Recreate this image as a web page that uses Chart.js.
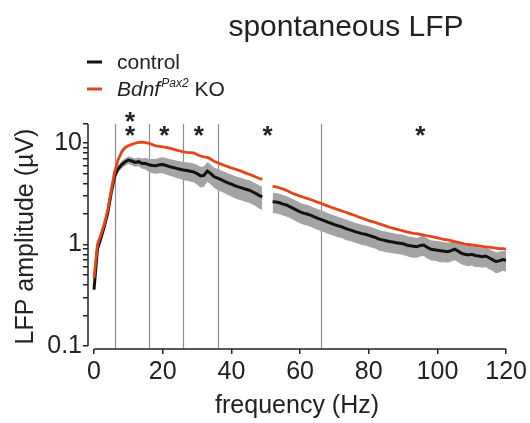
<!DOCTYPE html>
<html>
<head>
<meta charset="utf-8">
<script src="https://cdn.jsdelivr.net/npm/chart.js@4.4.1/dist/chart.umd.min.js"></script>
<style>
  html, body { margin: 0; padding: 0; background: #fff; }
  #wrap { width: 530px; height: 423px; }
</style>
</head>
<body>
<div id="wrap"><canvas id="lfpChart" width="530" height="423"></canvas></div>
<script>
// frequency bins (Hz), 1 Hz steps; 50-51 Hz removed (line noise)
const freqs = Array.from({ length: 121 }, (_, i) => i);

const controlMean = [
  0.36, 0.9, 1.15, 1.5, 2.05, 3.2, 4.7, 5.55, 6.1, 6.5,
  6.8, 6.65, 6.45, 6.55, 6.3, 6.3, 6.1, 6.0, 5.98, 6.1,
  6.15, 6.0, 5.85, 5.75, 5.63, 5.52, 5.42, 5.35, 5.28, 5.2,
  5.0, 4.75, 4.8, 5.3, 5.0, 4.65, 4.5, 4.35, 4.2, 4.05,
  3.93, 3.8, 3.7, 3.62, 3.52, 3.45, 3.33, 3.2, 3.05, 2.95,
  null, null, 2.64, 2.62, 2.58, 2.5, 2.45, 2.36, 2.27, 2.18,
  2.1, 2.04, 2.0, 1.95, 1.88, 1.82, 1.77, 1.72, 1.66, 1.62,
  1.57, 1.53, 1.5, 1.45, 1.41, 1.38, 1.34, 1.31, 1.28, 1.26,
  1.23, 1.2, 1.17, 1.13, 1.11, 1.09, 1.07, 1.06, 1.04, 1.03,
  1.02, 0.99, 0.97, 0.96, 0.95, 0.98, 0.99, 0.94, 0.9, 0.89,
  0.88, 0.87, 0.86, 0.85, 0.87, 0.9, 0.86, 0.82, 0.8, 0.79,
  0.8, 0.78, 0.77, 0.76, 0.77, 0.74, 0.71, 0.68, 0.69, 0.71,
  0.7
];

const controlSem = [
  0.02, 0.05, 0.08, 0.1, 0.15, 0.25, 0.35, 0.45, 0.5, 0.55,
  0.6, 0.6, 0.6, 0.65, 0.72, 0.8, 0.88, 0.95, 1.0, 1.05,
  1.1, 1.1, 1.1, 1.1, 1.1, 1.1, 1.1, 1.1, 1.1, 1.1,
  1.1, 1.1, 1.1, 1.15, 1.1, 1.05, 1.05, 1.02, 1.0, 0.98,
  0.96, 0.94, 0.92, 0.9, 0.88, 0.86, 0.84, 0.81, 0.78, 0.76,
  null, null, 0.6, 0.6, 0.59, 0.57, 0.56, 0.54, 0.52, 0.5,
  0.48, 0.47, 0.46, 0.45, 0.43, 0.42, 0.41, 0.4, 0.38, 0.37,
  0.36, 0.35, 0.34, 0.33, 0.32, 0.31, 0.3, 0.29, 0.29, 0.28,
  0.28, 0.27, 0.26, 0.26, 0.25, 0.25, 0.24, 0.24, 0.23, 0.23,
  0.23, 0.22, 0.22, 0.22, 0.21, 0.22, 0.22, 0.21, 0.2, 0.2,
  0.2, 0.2, 0.19, 0.19, 0.19, 0.2, 0.19, 0.18, 0.18, 0.18,
  0.18, 0.18, 0.17, 0.17, 0.17, 0.17, 0.16, 0.16, 0.16, 0.16,
  0.16
];

const koMean = [
  0.47, 1.0, 1.25, 1.6, 2.2, 3.4, 5.2, 6.8, 8.1, 9.0,
  9.4, 9.7, 9.95, 10.15, 10.2, 10.1, 9.95, 9.65, 9.35, 9.25,
  9.15, 9.05, 8.9, 8.7, 8.53, 8.35, 8.2, 8.08, 8.05, 8.0,
  7.7, 7.45, 7.3, 7.22, 6.95, 6.6, 6.4, 6.2, 6.0, 5.85,
  5.68, 5.55, 5.4, 5.25, 5.08, 4.95, 4.8, 4.65, 4.5, 4.38,
  null, null, 3.75, 3.7, 3.62, 3.52, 3.42, 3.3, 3.17, 3.08,
  3.0, 2.92, 2.85, 2.78, 2.7, 2.62, 2.55, 2.47, 2.4, 2.33,
  2.27, 2.21, 2.15, 2.09, 2.04, 1.98, 1.93, 1.87, 1.82, 1.77,
  1.72, 1.68, 1.64, 1.6, 1.56, 1.52, 1.48, 1.45, 1.42, 1.39,
  1.36, 1.33, 1.31, 1.29, 1.28, 1.26, 1.24, 1.22, 1.2, 1.18,
  1.16, 1.14, 1.12, 1.11, 1.09, 1.07, 1.05, 1.03, 1.01, 1.0,
  0.99, 0.98, 0.97, 0.96, 0.95, 0.94, 0.93, 0.92, 0.91, 0.91,
  0.9
];

// frequency band borders and significance marks
const bandEdges = [6, 16, 26, 36, 66];
const starFreqs = [10.5, 10.5, 20.5, 30.5, 50.5, 95];
const starLevels = [18.2, 13.2, 13.2, 13.2, 13.2, 13.2];

const xTicks = [0, 20, 40, 60, 80, 100, 120];
const yTicks = [0.1, 0.2, 0.3, 0.4, 0.5, 0.6, 0.7, 0.8, 0.9,
  1, 2, 3, 4, 5, 6, 7, 8, 9, 10, 15.4];
const yTickLabels = [0.1, 1, 10];

const xMin = -1.75;
const yMin = 0.0934;
const yMax = 15.4;

const FONT = '"Liberation Sans", Arial, Helvetica, sans-serif';
const INK = '#222';
const RED = '#e4461c';

Chart.defaults.font.family = FONT;
Chart.defaults.color = INK;

function toPoints(arr) {
  return freqs.map((f, i) => ({ x: f, y: arr[i] }));
}

const controlUpper = controlMean.map((m, i) => m === null ? null : m + controlSem[i]);
const controlLower = controlMean.map((m, i) => m === null ? null : m - controlSem[i]);

const overlayPlugin = {
  id: 'overlay',
  beforeDatasetsDraw(chart) {
    const { ctx, chartArea, scales } = chart;
    ctx.save();
    ctx.strokeStyle = '#8e8e8e';
    ctx.lineWidth = 1.2;
    bandEdges.forEach(f => {
      const px = Math.round(scales.x.getPixelForValue(f)) + 0.5;
      ctx.beginPath();
      ctx.moveTo(px, chartArea.top);
      ctx.lineTo(px, chartArea.bottom);
      ctx.stroke();
    });
    ctx.restore();
  },
  afterDraw(chart) {
    const { ctx, chartArea, scales } = chart;
    ctx.save();

    // title
    ctx.fillStyle = INK;
    ctx.font = '30px ' + FONT;
    ctx.textAlign = 'center';
    ctx.textBaseline = 'alphabetic';
    ctx.fillText('spontaneous LFP', 346, 36);

    // detached axis lines
    ctx.strokeStyle = INK;
    ctx.lineWidth = 1.5;
    ctx.beginPath();
    ctx.moveTo(chartArea.left, scales.y.getPixelForValue(yTickLabels[0]));
    ctx.lineTo(chartArea.left, scales.y.getPixelForValue(yMax));
    ctx.moveTo(scales.x.getPixelForValue(xTicks[0]), chartArea.bottom);
    ctx.lineTo(scales.x.getPixelForValue(xTicks[xTicks.length - 1]), chartArea.bottom);
    ctx.stroke();

    // significance stars
    ctx.font = 'bold 26px ' + FONT;
    const m = ctx.measureText('*');
    const shift = (m.actualBoundingBoxAscent - m.actualBoundingBoxDescent) / 2;
    starFreqs.forEach((f, i) => {
      const px = scales.x.getPixelForValue(f);
      const py = scales.y.getPixelForValue(starLevels[i]);
      ctx.fillText('*', px, py + shift);
    });

    // legend
    ctx.textAlign = 'left';
    ctx.lineWidth = 3;
    ctx.strokeStyle = '#111';
    ctx.beginPath();
    ctx.moveTo(87, 62);
    ctx.lineTo(102, 62);
    ctx.stroke();
    ctx.strokeStyle = RED;
    ctx.beginPath();
    ctx.moveTo(87, 89);
    ctx.lineTo(102, 89);
    ctx.stroke();

    ctx.fillStyle = INK;
    ctx.font = '21px ' + FONT;
    ctx.fillText('control', 117, 69);
    ctx.font = 'italic 21px ' + FONT;
    ctx.fillText('Bdnf', 117, 96);
    let x = 117 + ctx.measureText('Bdnf').width + 1;
    ctx.font = 'italic 12px ' + FONT;
    ctx.fillText('Pax2', x, 87);
    x += ctx.measureText('Pax2').width;
    ctx.font = '21px ' + FONT;
    ctx.fillText(' KO', x, 96);

    ctx.restore();
  }
};

const ctx = document.getElementById('lfpChart').getContext('2d');

const lfpChart = new Chart(ctx, {
  type: 'line',
  data: {
    datasets: [
      {
        label: 'Bdnf Pax2 KO',
        data: toPoints(koMean),
        borderColor: RED,
        borderWidth: 2.8,
        pointRadius: 0,
        fill: false,
        spanGaps: false,
        order: 0
      },
      {
        label: 'control',
        data: toPoints(controlMean),
        borderColor: '#111',
        borderWidth: 3,
        pointRadius: 0,
        fill: false,
        spanGaps: false,
        order: 1
      },
      {
        label: 'control + SEM',
        data: toPoints(controlUpper),
        borderColor: 'transparent',
        borderWidth: 0,
        backgroundColor: '#a4a4a4',
        pointRadius: 0,
        fill: '+1',
        spanGaps: false,
        order: 2
      },
      {
        label: 'control - SEM',
        data: toPoints(controlLower),
        borderColor: 'transparent',
        borderWidth: 0,
        pointRadius: 0,
        fill: false,
        spanGaps: false,
        order: 3
      }
    ]
  },
  options: {
    responsive: false,
    animation: false,
    layout: { padding: { top: 124, right: 23, bottom: 0, left: 0 } },
    plugins: {
      legend: { display: false },
      tooltip: { enabled: false },
      title: { display: false }
    },
    scales: {
      x: {
        type: 'linear',
        min: xMin,
        max: 120,
        afterBuildTicks: axis => { axis.ticks = xTicks.map(v => ({ value: v })); },
        afterFit: scale => { scale.height = 74; },
        border: { display: false },
        grid: { drawOnChartArea: false, drawTicks: true, tickLength: 5, color: INK, lineWidth: 1.5 },
        ticks: { font: { size: 25 }, color: INK, padding: 3, maxRotation: 0, autoSkip: false },
        title: {
          display: true,
          text: 'frequency (Hz)',
          color: INK,
          font: { size: 25 },
          padding: { top: 0, bottom: 2 }
        }
      },
      y: {
        type: 'logarithmic',
        min: yMin,
        max: yMax,
        afterBuildTicks: axis => { axis.ticks = yTicks.map(v => ({ value: v })); },
        afterFit: scale => { scale.width = 88; },
        border: { display: false },
        grid: { drawOnChartArea: false, drawTicks: true, tickLength: 5, color: INK, lineWidth: 1.5 },
        ticks: {
          font: { size: 25 },
          color: INK,
          padding: 1,
          autoSkip: false,
          callback: v => yTickLabels.includes(v) ? String(v) : ''
        },
        title: {
          display: true,
          text: 'LFP amplitude (µV)',
          color: INK,
          font: { size: 25 },
          padding: { top: 11, bottom: 0 }
        }
      }
    }
  },
  plugins: [overlayPlugin]
});
</script>
</body>
</html>
